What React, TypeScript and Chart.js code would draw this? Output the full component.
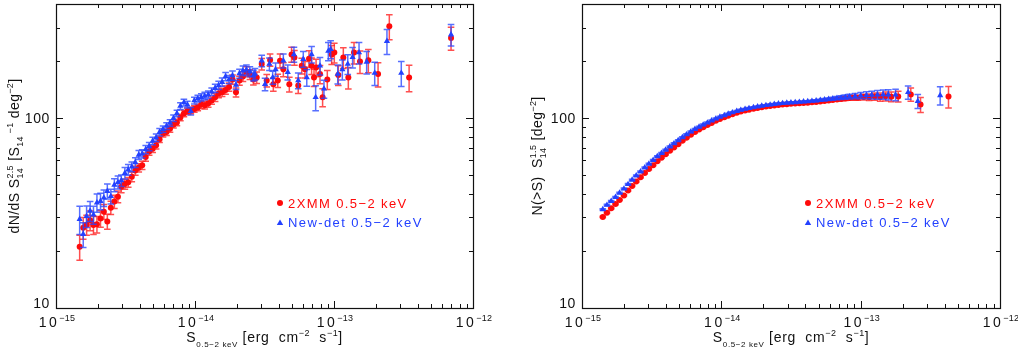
import React, { useEffect, useRef } from "react";
import { Chart, registerables } from "chart.js";
Chart.register(...registerables);

const FONT = '"Liberation Sans", Arial, Helvetica, sans-serif';
const RED = "rgb(255,10,10)";
const BLUE = "rgb(35,65,255)";
const RED_ERR = "rgba(255,30,30,0.78)";
const BLUE_ERR = "rgba(40,70,255,0.78)";

// ---------- Left panel: differential counts dN/dS S^2.5 ----------
const redDnS = [
  1.48e-15, 1.57e-15, 1.66e-15, 1.76e-15, 1.86e-15, 1.97e-15, 2.09e-15, 2.21e-15, 2.34e-15, 2.48e-15,
  2.63e-15, 2.79e-15, 2.95e-15, 3.13e-15, 3.31e-15, 3.51e-15, 3.72e-15, 3.94e-15, 4.17e-15, 4.42e-15,
  4.68e-15, 4.96e-15, 5.25e-15, 5.56e-15, 5.89e-15, 6.24e-15, 6.61e-15, 7.0e-15, 7.41e-15, 7.85e-15,
  8.32e-15, 8.81e-15, 9.33e-15, 9.89e-15, 1.047e-14, 1.109e-14, 1.175e-14, 1.245e-14, 1.318e-14, 1.396e-14,
  1.479e-14, 1.567e-14, 1.66e-14, 1.758e-14, 1.862e-14, 1.972e-14, 2.089e-14, 2.213e-14, 2.344e-14, 2.483e-14,
  2.63e-14,
  2.78e-14, 3.02e-14, 3.28e-14, 3.47e-14, 3.66e-14, 3.94e-14, 4.09e-14, 4.32e-14, 4.77e-14, 4.95e-14,
  5.19e-14, 5.53e-14, 5.86e-14, 6.18e-14, 6.61e-14, 6.9e-14, 7.18e-14, 7.43e-14, 7.93e-14, 8.28e-14,
  8.95e-14, 9.62e-14, 1.005e-13, 1.074e-13, 1.167e-13, 1.268e-13, 1.393e-13, 1.538e-13, 1.766e-13, 2.075e-13,
  2.5e-13, 3.47e-13, 6.95e-13,
];
const redDnV = [
  21.0, 26.5, 27.5, 29.0, 27.4, 27.6, 29.6, 32.2, 28.6, 33.8,
  36.4, 38.6, 43.5, 45.0, 46.0, 49.2, 53.0, 54.8, 56.5, 62.5,
  66.8, 69.0, 72.0, 77.5, 83.0, 84.5, 88.0, 92.5, 95.0, 101,
  106, 109, 110, 112, 114, 118, 117, 119.5, 124, 129,
  135, 137, 141, 146, 160, 137, 158, 166, 176, 170,
  160,
  164, 193, 158, 203, 151, 158, 201, 181, 151, 217,
  209, 149, 189, 181, 206, 189, 164, 185, 171, 129,
  160, 217, 222, 169, 209, 164, 222, 199, 202, 171,
  305, 164, 265,
];
const redDnErr = [
  0.15, 0.13, 0.12, 0.12, 0.11, 0.1, 0.1, 0.09, 0.09, 0.08,
  0.08, 0.07, 0.07, 0.06, 0.06, 0.06, 0.055, 0.05, 0.05, 0.05,
  0.045, 0.045, 0.045, 0.04, 0.04, 0.04, 0.04, 0.04, 0.04, 0.04,
  0.04, 0.04, 0.04, 0.04, 0.04, 0.045, 0.045, 0.045, 0.045, 0.05,
  0.05, 0.05, 0.05, 0.05, 0.055, 0.055, 0.055, 0.06, 0.06, 0.06,
  0.065,
  0.07, 0.07, 0.075, 0.075, 0.08, 0.08, 0.085, 0.085, 0.09, 0.09,
  0.09, 0.095, 0.095, 0.1, 0.1, 0.1, 0.105, 0.105, 0.11, 0.11,
  0.115, 0.115, 0.12, 0.12, 0.125, 0.13, 0.13, 0.135, 0.14, 0.145,
  0.15, 0.16, 0.14,
];

const blueDnS = [
  1.48e-15, 1.57e-15, 1.66e-15, 1.76e-15, 1.86e-15, 1.97e-15, 2.09e-15, 2.21e-15, 2.34e-15, 2.48e-15,
  2.63e-15, 2.79e-15, 2.95e-15, 3.13e-15, 3.31e-15, 3.51e-15, 3.72e-15, 3.94e-15, 4.17e-15, 4.42e-15,
  4.68e-15, 4.96e-15, 5.25e-15, 5.56e-15, 5.89e-15, 6.24e-15, 6.61e-15, 7.0e-15, 7.41e-15, 7.85e-15,
  8.32e-15, 8.81e-15, 9.33e-15, 9.89e-15, 1.047e-14, 1.109e-14, 1.175e-14, 1.245e-14, 1.318e-14, 1.396e-14,
  1.479e-14, 1.567e-14, 1.66e-14, 1.758e-14, 1.862e-14, 1.972e-14, 2.089e-14, 2.213e-14, 2.344e-14, 2.483e-14,
  2.63e-14,
  2.7e-14, 3.02e-14, 3.19e-14, 3.43e-14, 3.62e-14, 3.8e-14, 4.32e-14, 4.65e-14, 5.15e-14, 5.53e-14,
  6.01e-14, 6.37e-14, 6.9e-14, 7.38e-14, 7.93e-14, 8.47e-14, 9.1e-14, 9.46e-14, 1.064e-13, 1.148e-13,
  1.256e-13, 1.361e-13, 1.514e-13, 1.718e-13, 1.963e-13, 2.404e-13, 3.048e-13, 6.95e-13,
];
const blueDnV = [
  29.4, 24.5, 30.5, 32.5, 31.0, 35.9, 36.6, 38.1, 41.3, 38.8,
  44.5, 46.0, 47.0, 51.4, 53.6, 55.5, 58.5, 64.1, 65.0, 68.5,
  71.0, 76.0, 79.0, 84.5, 87.5, 91.0, 94.5, 100, 106, 116,
  121, 118, 109, 124, 127, 129, 131, 133, 138, 144,
  149, 155, 166, 160, 168, 150, 172, 178, 180, 176,
  168,
  171, 201, 151, 193, 164, 181, 201, 175, 217, 158,
  205, 164, 217, 129, 189, 143, 226, 231, 171, 181,
  193, 210, 222, 198, 173, 255, 173, 276,
];
const blueDnErr = [
  0.17, 0.15, 0.13, 0.12, 0.11, 0.11, 0.1, 0.1, 0.09, 0.09,
  0.08, 0.08, 0.07, 0.07, 0.065, 0.06, 0.06, 0.055, 0.05, 0.05,
  0.05, 0.045, 0.045, 0.045, 0.04, 0.04, 0.04, 0.04, 0.04, 0.04,
  0.04, 0.04, 0.045, 0.04, 0.04, 0.045, 0.045, 0.045, 0.045, 0.05,
  0.05, 0.05, 0.05, 0.05, 0.055, 0.055, 0.055, 0.06, 0.06, 0.06,
  0.065,
  0.07, 0.07, 0.075, 0.075, 0.08, 0.08, 0.085, 0.09, 0.09, 0.095,
  0.095, 0.1, 0.1, 0.15, 0.105, 0.11, 0.11, 0.11, 0.115, 0.12,
  0.12, 0.125, 0.13, 0.135, 0.14, 0.15, 0.15, 0.13,
];

// ---------- Right panel: cumulative counts N(>S) S^1.5 ----------
const redNS = [
  1.41e-15, 1.51e-15, 1.62e-15, 1.74e-15, 1.86e-15, 2.0e-15, 2.14e-15, 2.29e-15, 2.45e-15, 2.63e-15,
  2.82e-15, 3.02e-15, 3.24e-15, 3.47e-15, 3.72e-15, 3.98e-15, 4.27e-15, 4.57e-15, 4.9e-15, 5.25e-15,
  5.62e-15, 6.03e-15, 6.46e-15, 6.92e-15, 7.41e-15, 7.94e-15, 8.51e-15, 9.12e-15, 9.77e-15, 1.05e-14,
  1.12e-14, 1.2e-14, 1.29e-14, 1.38e-14, 1.48e-14, 1.58e-14, 1.7e-14, 1.82e-14, 1.95e-14, 2.09e-14,
  2.24e-14, 2.4e-14, 2.57e-14, 2.75e-14, 2.95e-14, 3.16e-14, 3.39e-14, 3.63e-14, 3.89e-14, 4.17e-14,
  4.47e-14, 4.79e-14, 5.13e-14, 5.5e-14, 5.89e-14, 6.31e-14, 6.76e-14, 7.24e-14, 7.76e-14, 8.32e-14,
  8.91e-14, 9.55e-14,
  1.05e-13, 1.15e-13, 1.26e-13, 1.38e-13, 1.51e-13, 1.66e-13, 1.86e-13, 2.29e-13, 2.69e-13, 4.27e-13,
];
const redNV = [
  30.2, 31.8, 33.5, 35.3, 37.1, 39.2, 41.6, 44.0, 46.4, 48.8,
  51.4, 54.0, 56.6, 59.4, 62.0, 64.6, 67.4, 70.2, 73.0, 76.0,
  78.9, 81.8, 84.6, 87.2, 89.6, 92.0, 94.5, 96.9, 99.2, 101.3,
  103.2, 105.0, 106.8, 108.5, 109.9, 111.0, 112.2, 113.3, 114.3, 115.2,
  116.0, 116.8, 117.5, 118.1, 118.6, 119.1, 119.5, 119.9, 120.3, 120.8,
  121.3, 121.9, 122.6, 123.3, 124.0, 124.8, 125.6, 126.3, 127.0, 127.8,
  128.4, 128.2,
  129.3, 129.0, 130.1, 129.5, 130.4, 129.8, 130.2, 133.5, 118, 130,
];
const redNErr = [
  0.008, 0.008, 0.008, 0.008, 0.008, 0.008, 0.008, 0.008, 0.008, 0.008,
  0.008, 0.008, 0.008, 0.008, 0.008, 0.008, 0.008, 0.008, 0.008, 0.008,
  0.008, 0.008, 0.008, 0.008, 0.008, 0.008, 0.008, 0.008, 0.008, 0.008,
  0.008, 0.008, 0.008, 0.008, 0.008, 0.008, 0.008, 0.008, 0.008, 0.008,
  0.008, 0.008, 0.008, 0.008, 0.008, 0.008, 0.008, 0.008, 0.008, 0.008,
  0.01, 0.01, 0.012, 0.012, 0.014, 0.016, 0.018, 0.02, 0.022, 0.025,
  0.028, 0.03,
  0.035, 0.04, 0.045, 0.05, 0.055, 0.06, 0.065, 0.08, 0.09, 0.13,
];

const blueNS = [
  1.41e-15, 1.51e-15, 1.62e-15, 1.74e-15, 1.86e-15, 2.0e-15, 2.14e-15, 2.29e-15, 2.45e-15, 2.63e-15,
  2.82e-15, 3.02e-15, 3.24e-15, 3.47e-15, 3.72e-15, 3.98e-15, 4.27e-15, 4.57e-15, 4.9e-15, 5.25e-15,
  5.62e-15, 6.03e-15, 6.46e-15, 6.92e-15, 7.41e-15, 7.94e-15, 8.51e-15, 9.12e-15, 9.77e-15, 1.05e-14,
  1.12e-14, 1.2e-14, 1.29e-14, 1.38e-14, 1.48e-14, 1.58e-14, 1.7e-14, 1.82e-14, 1.95e-14, 2.09e-14,
  2.24e-14, 2.4e-14, 2.57e-14, 2.75e-14, 2.95e-14, 3.16e-14, 3.39e-14, 3.63e-14, 3.89e-14, 4.17e-14,
  4.47e-14, 4.79e-14, 5.13e-14, 5.5e-14, 5.89e-14, 6.31e-14, 6.76e-14, 7.24e-14, 7.76e-14, 8.32e-14,
  9.12e-14, 1.0e-13, 1.1e-13, 1.2e-13, 1.32e-13, 1.45e-13, 1.58e-13, 1.78e-13, 2.19e-13, 2.57e-13, 3.72e-13,
];
const blueNV = [
  33.1, 34.9, 36.6, 38.4, 40.4, 42.5, 44.9, 47.3, 49.8, 52.3,
  54.9, 57.5, 60.1, 62.9, 65.5, 68.1, 70.9, 73.6, 76.4, 79.3,
  82.1, 84.9, 87.6, 90.1, 92.4, 94.7, 97.1, 99.4, 101.6, 103.6,
  105.4, 107.2, 108.9, 110.5, 111.8, 112.9, 114.0, 115.1, 116.1, 117.0,
  117.8, 118.6, 119.3, 119.9, 120.4, 120.9, 121.3, 121.7, 122.2, 122.7,
  123.3, 123.9, 124.6, 125.3, 126.0, 126.8, 127.6, 128.4, 129.2, 130.0,
  130.8, 131.6, 132.2, 132.6, 133.0, 133.4, 133.2, 133.0, 137, 123, 132,
];
const blueNErr = [
  0.008, 0.008, 0.008, 0.008, 0.008, 0.008, 0.008, 0.008, 0.008, 0.008,
  0.008, 0.008, 0.008, 0.008, 0.008, 0.008, 0.008, 0.008, 0.008, 0.008,
  0.008, 0.008, 0.008, 0.008, 0.008, 0.008, 0.008, 0.008, 0.008, 0.008,
  0.008, 0.008, 0.008, 0.008, 0.008, 0.008, 0.008, 0.008, 0.008, 0.008,
  0.008, 0.008, 0.008, 0.008, 0.008, 0.008, 0.008, 0.008, 0.008, 0.008,
  0.01, 0.01, 0.012, 0.014, 0.016, 0.018, 0.02, 0.022, 0.025, 0.028,
  0.032, 0.037, 0.042, 0.047, 0.052, 0.057, 0.062, 0.07, 0.08, 0.085, 0.11,
];

// ---------- axes ----------
const xMin = 1e-15;
const xMax = 1e-12;
const yMin = 10;
const yMax = 400;
const xMajor = [1e-15, 1e-14, 1e-13, 1e-12];
const xMajorExp = ["\u221215", "\u221214", "\u221213", "\u221212"];
const yMajor = [10, 100];
const yMajorLabels = ["10", "100"];
const seriesNames = ["2XMM 0.5\u22122 keV", "New-det 0.5\u22122 keV"];

type Seg =
  | { t: string; size: number; dy: number; ls: number }
  | { sup: string; sub: string; size: number; supDy: number; subDy: number; ls: number };

function setFont(ctx: CanvasRenderingContext2D, size: number) {
  ctx.font = `${size}px ${FONT}`;
}
// manual letter spacing (advance per glyph + ls)
function strW(ctx: CanvasRenderingContext2D, s: string, ls: number) {
  let w = 0;
  for (const ch of s) w += ctx.measureText(ch).width + ls;
  return w;
}
function strDraw(ctx: CanvasRenderingContext2D, s: string, x: number, y: number, ls: number) {
  let cx = x;
  for (const ch of s) {
    ctx.fillText(ch, cx, y);
    cx += ctx.measureText(ch).width + ls;
  }
}
function segW(ctx: CanvasRenderingContext2D, s: Seg) {
  setFont(ctx, s.size);
  if ("t" in s) return strW(ctx, s.t, s.ls);
  return Math.max(strW(ctx, s.sup, s.ls), strW(ctx, s.sub, s.ls));
}
function drawRich(
  ctx: CanvasRenderingContext2D,
  segs: Seg[],
  x: number,
  y: number,
  align: "left" | "center" | "right",
  color: string
) {
  const total = segs.reduce((a, s) => a + segW(ctx, s), 0);
  let cx = align === "center" ? x - total / 2 : align === "right" ? x - total : x;
  ctx.fillStyle = color;
  ctx.textAlign = "left";
  ctx.textBaseline = "alphabetic";
  for (const s of segs) {
    const w = segW(ctx, s);
    if ("t" in s) strDraw(ctx, s.t, cx, y + s.dy, s.ls);
    else {
      strDraw(ctx, s.sup, cx, y + s.supDy, s.ls);
      strDraw(ctx, s.sub, cx, y + s.subDy, s.ls);
    }
    cx += w;
  }
}

const xTitle: Seg[] = [
  { t: "S", size: 14, dy: 0, ls: 0.8 },
  { t: "0.5\u22122 keV", size: 8, dy: 5, ls: 0.6 },
  { t: " [erg  cm", size: 14, dy: 0, ls: 0.7 },
  { t: "\u22122", size: 9, dy: -6, ls: 0.5 },
  { t: "  s", size: 14, dy: 0, ls: 0.7 },
  { t: "\u22121", size: 9, dy: -6, ls: 0.5 },
  { t: "]", size: 14, dy: 0, ls: 0.7 },
];
const yTitleLeft: Seg[] = [
  { t: "dN/dS S", size: 14, dy: 0, ls: 0.4 },
  { sup: "2.5", sub: "14", size: 9, supDy: -6, subDy: 4, ls: 0.3 },
  { t: " [S", size: 14, dy: 0, ls: 0.4 },
  { t: "14", size: 9, dy: 4, ls: 0.3 },
  { t: " \u22121", size: 9, dy: -6, ls: 0.3 },
  { t: " deg", size: 14, dy: 0, ls: 0.4 },
  { t: "\u22122", size: 9, dy: -6, ls: 0.3 },
  { t: "]", size: 14, dy: 0, ls: 0.4 },
];
const yTitleRight: Seg[] = [
  { t: "N(>S)  S", size: 14, dy: 0, ls: 0.4 },
  { sup: "1.5", sub: "14", size: 9, supDy: -6, subDy: 4, ls: 0.3 },
  { t: " [deg", size: 14, dy: 0, ls: 0.4 },
  { t: "\u22122", size: 9, dy: -6, ls: 0.3 },
  { t: "]", size: 14, dy: 0, ls: 0.4 },
];

function pts(xs: number[], ys: number[], es: number[]) {
  return xs.map((x, i) => ({ x, y: ys[i], lo: ys[i] * (1 - es[i]), hi: ys[i] * (1 + es[i]) }));
}

const overlay = {
  id: "overlay",
  beforeDatasetDraw(chart: any, args: any) {
    const ds = chart.data.datasets[args.index];
    const ys = chart.scales.y;
    const ctx: CanvasRenderingContext2D = chart.ctx;
    ctx.save();
    ctx.strokeStyle = ds.errColor;
    ctx.lineWidth = 1.5;
    args.meta.data.forEach((el: any, i: number) => {
      const raw = ds.data[i];
      const x = el.x;
      const y1 = ys.getPixelForValue(raw.lo);
      const y2 = ys.getPixelForValue(raw.hi);
      ctx.beginPath();
      ctx.moveTo(x, y1);
      ctx.lineTo(x, y2);
      ctx.moveTo(x - 3.3, y1);
      ctx.lineTo(x + 3.3, y1);
      ctx.moveTo(x - 3.3, y2);
      ctx.lineTo(x + 3.3, y2);
      ctx.stroke();
    });
    ctx.restore();
  },
  afterDraw(chart: any, _args: any, opts: any) {
    const ctx: CanvasRenderingContext2D = chart.ctx;
    const { left, right, top, bottom } = chart.chartArea;
    const xs = chart.scales.x;
    const ys = chart.scales.y;
    ctx.save();
    (ctx as any).letterSpacing = "0px";
    ctx.strokeStyle = "#111";
    ctx.lineWidth = 1.2;
    ctx.strokeRect(Math.round(left) + 0.5, Math.round(top) + 0.5, Math.round(right - left), Math.round(bottom - top));
    ctx.lineWidth = 1;
    // x ticks (inward, top and bottom)
    ctx.beginPath();
    for (let e = -15; e < -12; e++) {
      for (let m = 1; m <= 9; m++) {
        const v = m * Math.pow(10, e);
        const px = Math.round(xs.getPixelForValue(v)) + 0.5;
        const len = m === 1 ? 7 : 4;
        ctx.moveTo(px, bottom);
        ctx.lineTo(px, bottom - len);
        ctx.moveTo(px, top);
        ctx.lineTo(px, top + len);
      }
    }
    // y ticks (inward, left and right)
    const yt = [10, 20, 30, 40, 50, 60, 70, 80, 90, 100, 200, 300];
    yt.forEach((v) => {
      const py = Math.round(ys.getPixelForValue(v)) + 0.5;
      const len = v === 10 || v === 100 ? 7 : 4;
      ctx.moveTo(left, py);
      ctx.lineTo(left + len, py);
      ctx.moveTo(right, py);
      ctx.lineTo(right - len, py);
    });
    ctx.stroke();

    // x tick labels
    xMajor.forEach((v, i) => {
      const px = xs.getPixelForValue(v);
      const segs: Seg[] = [
        { t: "10", size: 14, dy: 0, ls: 2.5 },
        { t: xMajorExp[i], size: 9, dy: -6, ls: 0.2 },
      ];
      drawRich(ctx, segs, px + 1, bottom + 19, "center", "#111");
    });
    // y tick labels
    yMajor.forEach((v, i) => {
      const py = ys.getPixelForValue(v);
      const base = v === yMin ? py : py + 5;
      drawRich(ctx, [{ t: yMajorLabels[i], size: 14, dy: 0, ls: 0.6 }], left - 6, base, "right", "#111");
    });
    // x title
    drawRich(ctx, xTitle, (left + right) / 2, bottom + 34, "center", "#111");
    // y title
    ctx.save();
    ctx.translate(opts.yTitleX, (top + bottom) / 2);
    ctx.rotate(-Math.PI / 2);
    drawRich(ctx, opts.yTitle, 0, 0, "center", "#111");
    ctx.restore();

    // legend
    const lx = opts.legendX;
    ctx.fillStyle = RED;
    ctx.beginPath();
    ctx.arc(lx, 203, 3, 0, Math.PI * 2);
    ctx.fill();
    ctx.fillStyle = BLUE;
    ctx.beginPath();
    ctx.moveTo(lx, 219.5);
    ctx.lineTo(lx + 3.2, 225);
    ctx.lineTo(lx - 3.2, 225);
    ctx.closePath();
    ctx.fill();
    drawRich(ctx, [{ t: seriesNames[0], size: 13, dy: 0, ls: 1.4 }], lx + 8, 207.5, "left", RED);
    drawRich(ctx, [{ t: seriesNames[1], size: 13, dy: 0, ls: 1.4 }], lx + 8, 226.5, "left", BLUE);
    ctx.restore();
  },
};

function Panel(props: {
  left: number;
  pad: { left: number; right: number; top: number; bottom: number };
  red: any[];
  blue: any[];
  yTitle: Seg[];
  yTitleX: number;
  legendX: number;
}) {
  const ref = useRef<HTMLCanvasElement>(null);
  useEffect(() => {
    const chart = new Chart(ref.current!, {
      type: "scatter",
      data: {
        datasets: [
          {
            label: seriesNames[0],
            data: props.red,
            pointStyle: "circle",
            pointRadius: 3,
            backgroundColor: RED,
            borderColor: RED,
            borderWidth: 0,
            order: 2,
            errColor: RED_ERR,
          } as any,
          {
            label: seriesNames[1],
            data: props.blue,
            pointStyle: "triangle",
            pointRadius: 3.6,
            backgroundColor: BLUE,
            borderColor: BLUE,
            borderWidth: 0,
            order: 1,
            errColor: BLUE_ERR,
          } as any,
        ],
      },
      options: {
        animation: false,
        responsive: false,
        devicePixelRatio: 1,
        layout: { padding: props.pad },
        scales: {
          x: { type: "logarithmic", min: xMin, max: xMax, display: false },
          y: { type: "logarithmic", min: yMin, max: yMax, display: false },
        },
        plugins: {
          legend: { display: false },
          tooltip: { enabled: false },
          overlay: { yTitle: props.yTitle, yTitleX: props.yTitleX, legendX: props.legendX },
        } as any,
      },
      plugins: [overlay as any],
    });
    return () => chart.destroy();
  }, []);
  return (
    <canvas
      ref={ref}
      width={509}
      height={354}
      style={{ position: "absolute", left: props.left, top: 0, width: 509, height: 354 }}
    />
  );
}

export default function App() {
  return (
    <div style={{ position: "fixed", left: 0, top: 0, width: 1018, height: 354, background: "#fff" }}>
      <Panel
        left={0}
        pad={{ left: 56, right: 36, top: 1, bottom: 46 }}
        red={pts(redDnS, redDnV, redDnErr)}
        blue={pts(blueDnS, blueDnV, blueDnErr)}
        yTitle={yTitleLeft}
        yTitleX={19}
        legendX={280}
      />
      <Panel
        left={509}
        pad={{ left: 73, right: 18, top: 1, bottom: 46 }}
        red={pts(redNS, redNV, redNErr)}
        blue={pts(blueNS, blueNV, blueNErr)}
        yTitle={yTitleRight}
        yTitleX={33}
        legendX={299}
      />
    </div>
  );
}
